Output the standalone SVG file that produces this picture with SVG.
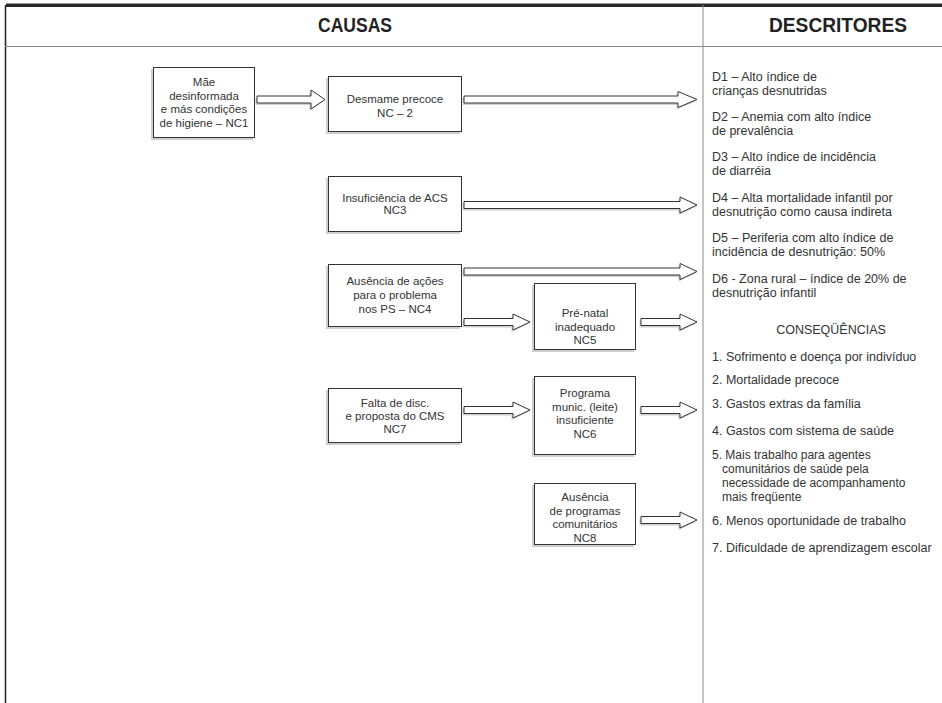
<svg xmlns="http://www.w3.org/2000/svg" width="942" height="703" viewBox="0 0 942 703">
<style>
  .grid { stroke: #888; stroke-width: 1; fill: none; }
  .head { font-family: "Liberation Sans", Arial, sans-serif; font-weight: bold; font-size: 20px; fill: #222; text-anchor: middle; }
  .box { fill: #fff; stroke: #333; stroke-width: 1; }
  .shadow { fill: #cfcfcf; stroke: none; }
  .t { font-family: "Liberation Sans", Arial, sans-serif; font-size: 11.5px; fill: #333; }
  .r { font-family: "Liberation Sans", Arial, sans-serif; font-size: 12.5px; fill: #333; }
  .r.s { font-size: 12px; }
  .c { text-anchor: middle; }
  .arrow { fill: #fff; stroke: #333; stroke-width: 1; stroke-linejoin: miter; }
</style>
<rect x="0" y="0" width="942" height="703" fill="#fff"/>
<g id="frame">
  <line x1="6" y1="3.5" x2="942" y2="3.5" stroke="#999" stroke-width="1"/>
  <rect x="6" y="4" width="936" height="3" fill="#2a2a2a"/>
  <line x1="5.5" y1="5" x2="5.5" y2="703" stroke="#222" stroke-width="1.5"/>
  <line x1="5" y1="46.5" x2="942" y2="46.5" class="grid" stroke="#999"/>
  <line x1="703" y1="5" x2="703" y2="703" class="grid"/>
  <text class="head" x="355" y="32" textLength="74" lengthAdjust="spacingAndGlyphs">CAUSAS</text>
  <text class="head" x="838" y="32" textLength="138" lengthAdjust="spacingAndGlyphs">DESCRITORES</text>
</g>
<g id="nc1">
  <rect class="shadow" x="151" y="69" width="102" height="71"/>
  <rect class="box" x="153.5" y="67.5" width="101" height="70"/>
  <text class="t c" x="204" y="86">Mãe</text>
  <text class="t c" x="204" y="99.5">desinformada</text>
  <text class="t c" x="204" y="113">e más condições</text>
  <text class="t c" x="204" y="126.5">de higiene – NC1</text>
</g>
<g id="nc2">
  <rect class="shadow" x="326" y="78" width="134" height="56"/>
  <rect class="box" x="328.5" y="76.5" width="133" height="55"/>
  <text class="t c" x="395" y="103">Desmame precoce</text>
  <text class="t c" x="395" y="117">NC – 2</text>
</g>
<g id="nc3">
  <rect class="shadow" x="326" y="178" width="134" height="56"/>
  <rect class="box" x="328.5" y="176.5" width="133" height="55"/>
  <text class="t c" x="395" y="201.5">Insuficiência de ACS</text>
  <text class="t c" x="395" y="214">NC3</text>
</g>
<g id="nc4">
  <rect class="shadow" x="326" y="266" width="134" height="63"/>
  <rect class="box" x="328.5" y="264.5" width="133" height="62"/>
  <text class="t c" x="395" y="285">Ausência de ações</text>
  <text class="t c" x="395" y="299">para o problema</text>
  <text class="t c" x="395" y="313">nos PS – NC4</text>
</g>
<g id="nc5">
  <rect class="shadow" x="532" y="285" width="102" height="67"/>
  <rect class="box" x="534.5" y="283.5" width="101" height="66"/>
  <text class="t c" x="585" y="317">Pré-natal</text>
  <text class="t c" x="585" y="330.5">inadequado</text>
  <text class="t c" x="585" y="344">NC5</text>
</g>
<g id="nc7">
  <rect class="shadow" x="326" y="390" width="134" height="55"/>
  <rect class="box" x="328.5" y="388.5" width="133" height="54"/>
  <text class="t c" x="395" y="407">Falta de disc.</text>
  <text class="t c" x="395" y="420">e proposta do CMS</text>
  <text class="t c" x="395" y="432.5">NC7</text>
</g>
<g id="nc6">
  <rect class="shadow" x="532" y="378" width="102" height="79"/>
  <rect class="box" x="534.5" y="376.5" width="101" height="78"/>
  <text class="t c" x="585" y="397">Programa</text>
  <text class="t c" x="585" y="410.5">munic. (leite)</text>
  <text class="t c" x="585" y="424">insuficiente</text>
  <text class="t c" x="585" y="437.5">NC6</text>
</g>
<g id="nc8">
  <rect class="shadow" x="532" y="485" width="102" height="62"/>
  <rect class="box" x="534.5" y="483.5" width="101" height="61"/>
  <text class="t c" x="585" y="501">Ausência</text>
  <text class="t c" x="585" y="514.5">de programas</text>
  <text class="t c" x="585" y="528">comunitários</text>
  <text class="t c" x="585" y="541.5">NC8</text>
</g>
<g id="connectors">
  <g transform="translate(-1.5,2)">
    <path class="shadow" d="M257,96 H311 V90 L325,99.5 L311,109 V103 H257 Z"/>
    <path class="shadow" d="M464,96 H678 V91.5 L697,99.5 L678,107.5 V103 H464 Z"/>
    <path class="shadow" d="M464,201.5 H680 V197 L697,205 L680,213 V208.5 H464 Z"/>
    <path class="shadow" d="M464,268 H680 V263.5 L697,271.5 L680,279.5 V275 H464 Z"/>
    <path class="shadow" d="M464,318.5 H513 V314 L530,322 L513,330 V325.5 H464 Z"/>
    <path class="shadow" d="M641,318.5 H680 V314 L697,322 L680,330 V325.5 H641 Z"/>
    <path class="shadow" d="M464,406.5 H513 V402 L530,410 L513,418 V413.5 H464 Z"/>
    <path class="shadow" d="M641,406.5 H680 V402 L697,410 L680,418 V413.5 H641 Z"/>
    <path class="shadow" d="M641,516.5 H680 V512 L697,520 L680,528 V523.5 H641 Z"/>
  </g>
  <path class="arrow" d="M257,96 H311 V90 L325,99.5 L311,109 V103 H257 Z"/>
  <path class="arrow" d="M464,96 H678 V91.5 L697,99.5 L678,107.5 V103 H464 Z"/>
  <path class="arrow" d="M464,201.5 H680 V197 L697,205 L680,213 V208.5 H464 Z"/>
  <path class="arrow" d="M464,268 H680 V263.5 L697,271.5 L680,279.5 V275 H464 Z"/>
  <path class="arrow" d="M464,318.5 H513 V314 L530,322 L513,330 V325.5 H464 Z"/>
  <path class="arrow" d="M641,318.5 H680 V314 L697,322 L680,330 V325.5 H641 Z"/>
  <path class="arrow" d="M464,406.5 H513 V402 L530,410 L513,418 V413.5 H464 Z"/>
  <path class="arrow" d="M641,406.5 H680 V402 L697,410 L680,418 V413.5 H641 Z"/>
  <path class="arrow" d="M641,516.5 H680 V512 L697,520 L680,528 V523.5 H641 Z"/>
</g>
<g id="descritores">
  <text class="r" x="712" y="81">D1 – Alto índice de</text>
  <text class="r" x="712" y="94.5">crianças desnutridas</text>
  <text class="r" x="712" y="121">D2 – Anemia com alto índice</text>
  <text class="r" x="712" y="134.5">de prevalência</text>
  <text class="r" x="712" y="161">D3 – Alto índice de incidência</text>
  <text class="r" x="712" y="174.5">de diarréia</text>
  <text class="r" x="712" y="202">D4 – Alta mortalidade infantil por</text>
  <text class="r" x="712" y="215.5">desnutrição como causa indireta</text>
  <text class="r" x="712" y="242">D5 – Periferia com alto índice de</text>
  <text class="r" x="712" y="255.5">incidência de desnutrição: 50%</text>
  <text class="r" x="712" y="283">D6 - Zona rural – índice de 20% de</text>
  <text class="r" x="712" y="296.5">desnutrição infantil</text>
</g>
<g id="consequencias">
  <text class="r c" x="831" y="334">CONSEQÜÊNCIAS</text>
  <text class="r" x="712" y="361">1. Sofrimento e doença por indivíduo</text>
  <text class="r" x="712" y="384">2. Mortalidade precoce</text>
  <text class="r" x="712" y="408">3. Gastos extras da família</text>
  <text class="r" x="712" y="435">4. Gastos com sistema de saúde</text>
  <text class="r s" x="712" y="459">5. Mais trabalho para agentes</text>
  <text class="r s" x="722" y="473">comunitários de saúde pela</text>
  <text class="r s" x="722" y="487">necessidade de acompanhamento</text>
  <text class="r s" x="722" y="501">mais freqüente</text>
  <text class="r" x="712" y="525">6. Menos oportunidade de trabalho</text>
  <text class="r" x="712" y="552">7. Dificuldade de aprendizagem escolar</text>
</g>
</svg>
